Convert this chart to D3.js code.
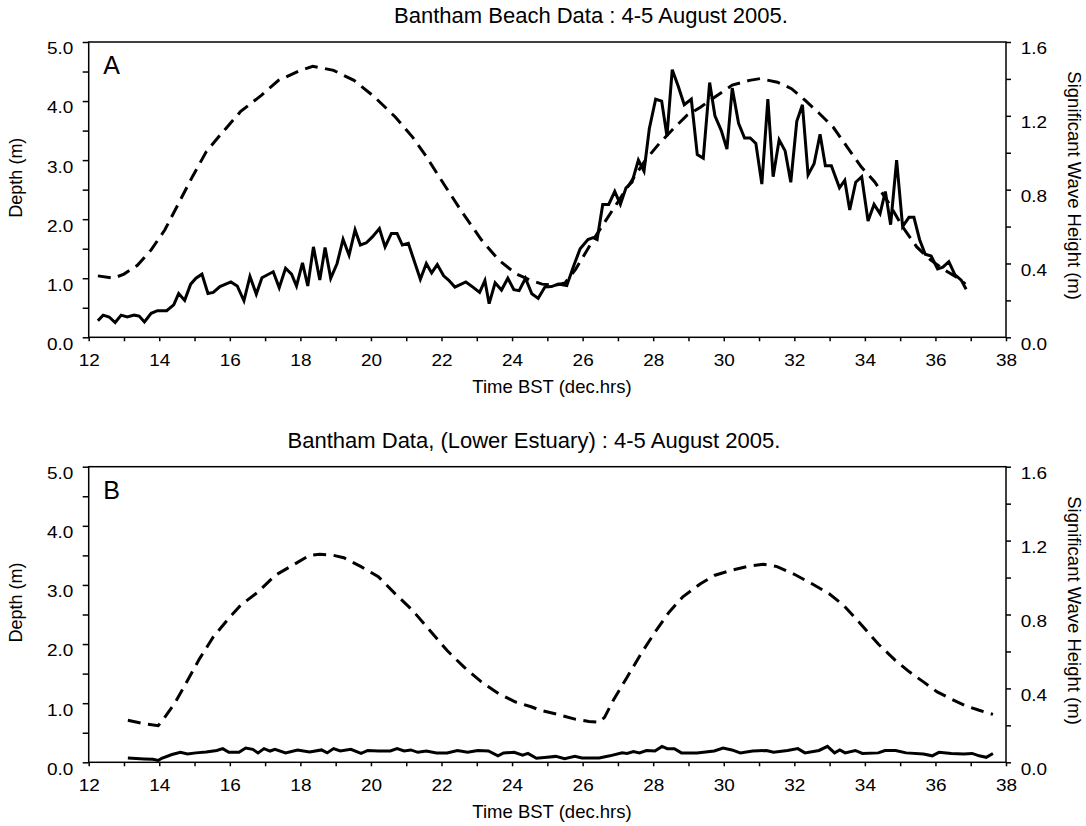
<!DOCTYPE html>
<html>
<head>
<meta charset="utf-8">
<script src="https://cdn.jsdelivr.net/npm/d3@7"></script>
<style>
  body { margin: 0; background: #fff; }
  svg { display: block; }
  text { font-family: "Liberation Sans", Arial, Helvetica, sans-serif; fill: #000; }
</style>
</head>
<body>
<svg id="chart" width="1086" height="826"></svg>
<script>
// ---- Data: Bantham Beach, 4-5 August 2005 (time in decimal hours BST) ----
const beachDepthTime = [12.26, 12.7, 13.0, 13.38, 13.77, 14.16, 14.55, 14.94, 15.33, 15.72, 16.3, 16.9, 17.38, 17.96, 18.35, 18.94, 19.52, 20.1, 20.69, 21.18, 21.57, 22.06, 22.55, 23.13, 23.62, 24.1, 24.5, 24.85, 25.2, 25.5, 25.8, 26.3, 26.79, 27.28, 27.78, 28.17, 28.57, 28.96, 29.35, 29.75, 30.24, 30.73, 31.03, 31.52, 31.92, 32.31, 32.71, 33.1, 33.5, 33.89, 34.28, 34.68, 35.07, 35.47, 35.86, 36.26, 36.65, 36.85];
const beachDepth = [1.04, 1.0, 1.07, 1.22, 1.48, 1.82, 2.27, 2.72, 3.14, 3.42, 3.82, 4.10, 4.35, 4.51, 4.59, 4.52, 4.35, 4.07, 3.73, 3.39, 3.06, 2.60, 2.15, 1.65, 1.31, 1.08, 0.97, 0.90, 0.88, 0.92, 1.15, 1.65, 2.10, 2.55, 3.0, 3.28, 3.53, 3.76, 3.90, 4.07, 4.27, 4.35, 4.38, 4.32, 4.21, 4.01, 3.79, 3.56, 3.22, 2.89, 2.63, 2.27, 1.87, 1.53, 1.31, 1.14, 1.0, 0.90];

const beachWaveTime = [12.26, 12.41, 12.58, 12.75, 12.92, 13.09, 13.29, 13.43, 13.58, 13.77, 13.95, 14.21, 14.41, 14.55, 14.72, 14.89, 15.04, 15.21, 15.38, 15.53, 15.72, 16.03, 16.21, 16.4, 16.57, 16.75, 16.91, 17.23, 17.4, 17.58, 17.75, 17.89, 18.06, 18.21, 18.37, 18.55, 18.7, 18.86, 19.04, 19.21, 19.38, 19.55, 19.7, 19.87, 20.04, 20.24, 20.4, 20.58, 20.74, 20.89, 21.06, 21.4, 21.57, 21.72, 21.88, 22.06, 22.2, 22.38, 22.69, 22.89, 23.08, 23.23, 23.35, 23.52, 23.7, 23.88, 24.05, 24.2, 24.38, 24.56, 24.74, 24.93, 25.12, 25.31, 25.55, 25.74, 25.93, 26.15, 26.3, 26.41, 26.57, 26.74, 26.91, 27.07, 27.23, 27.4, 27.58, 27.74, 27.89, 28.07, 28.24, 28.39, 28.54, 28.71, 28.88, 29.08, 29.25, 29.42, 29.6, 29.75, 29.93, 30.09, 30.24, 30.42, 30.59, 30.75, 30.91, 31.08, 31.25, 31.4, 31.57, 31.74, 31.9, 32.07, 32.23, 32.39, 32.56, 32.73, 32.88, 33.05, 33.28, 33.43, 33.57, 33.74, 33.91, 34.09, 34.26, 34.43, 34.58, 34.73, 34.9, 35.07, 35.25, 35.39, 35.55, 35.71, 35.88, 36.06, 36.21, 36.38, 36.55, 36.73, 36.87];
const beachWaveHs = [0.09, 0.12, 0.11, 0.08, 0.12, 0.11, 0.12, 0.115, 0.083, 0.13, 0.144, 0.144, 0.176, 0.237, 0.2, 0.288, 0.32, 0.342, 0.237, 0.243, 0.275, 0.3, 0.278, 0.198, 0.33, 0.234, 0.323, 0.355, 0.269, 0.374, 0.342, 0.278, 0.403, 0.278, 0.49, 0.31, 0.486, 0.32, 0.4, 0.531, 0.445, 0.582, 0.5, 0.512, 0.544, 0.589, 0.49, 0.563, 0.563, 0.5, 0.509, 0.314, 0.4, 0.349, 0.394, 0.333, 0.31, 0.272, 0.3, 0.272, 0.243, 0.307, 0.182, 0.295, 0.256, 0.32, 0.258, 0.253, 0.32, 0.236, 0.211, 0.272, 0.275, 0.288, 0.28, 0.384, 0.48, 0.53, 0.54, 0.53, 0.72, 0.72, 0.79, 0.72, 0.81, 0.84, 0.96, 0.9, 1.13, 1.29, 1.28, 1.09, 1.45, 1.36, 1.26, 1.29, 0.99, 0.97, 1.38, 1.2, 1.12, 1.02, 1.35, 1.16, 1.08, 1.08, 1.05, 0.83, 1.29, 0.87, 1.07, 1.01, 0.84, 1.17, 1.26, 0.88, 0.94, 1.1, 0.93, 0.93, 0.81, 0.85, 0.69, 0.84, 0.87, 0.63, 0.72, 0.67, 0.79, 0.61, 0.96, 0.6, 0.65, 0.65, 0.53, 0.45, 0.44, 0.37, 0.38, 0.41, 0.34, 0.31, 0.26];

// ---- Data: Bantham, Lower Estuary ----
const estuaryDepthTime = [13.11, 13.58, 13.97, 14.12, 14.46, 14.75, 15.14, 15.53, 15.92, 16.31, 16.8, 17.28, 17.77, 18.26, 18.55, 18.94, 19.23, 19.72, 20.21, 20.69, 21.18, 21.67, 22.16, 22.64, 23.13, 23.62, 24.1, 24.54, 24.8, 25.29, 25.78, 26.18, 26.47, 26.62, 26.87, 27.26, 27.66, 28.05, 28.45, 28.84, 29.34, 29.73, 30.23, 30.72, 31.12, 31.51, 32.0, 32.5, 32.99, 33.39, 33.88, 34.38, 34.87, 35.26, 35.66, 36.05, 36.45, 36.84, 37.24, 37.63];
const estuaryDepth = [0.71, 0.65, 0.62, 0.73, 1.02, 1.33, 1.75, 2.12, 2.40, 2.66, 2.88, 3.16, 3.33, 3.50, 3.52, 3.50, 3.46, 3.31, 3.14, 2.85, 2.57, 2.23, 1.89, 1.61, 1.36, 1.16, 1.02, 0.94, 0.88, 0.81, 0.73, 0.69, 0.68, 0.76, 1.05, 1.44, 1.84, 2.20, 2.54, 2.80, 3.02, 3.16, 3.25, 3.32, 3.35, 3.31, 3.18, 3.02, 2.85, 2.66, 2.34, 2.0, 1.72, 1.53, 1.36, 1.19, 1.07, 0.96, 0.88, 0.81];

const estuaryWaveTime = [13.11, 13.58, 13.82, 13.97, 14.07, 14.36, 14.6, 14.8, 15.04, 15.33, 15.63, 15.8, 15.97, 16.26, 16.45, 16.65, 16.8, 16.97, 17.14, 17.28, 17.58, 17.92, 18.26, 18.6, 18.76, 18.94, 19.13, 19.43, 19.72, 19.91, 20.21, 20.55, 20.74, 20.94, 21.13, 21.33, 21.57, 21.86, 22.16, 22.45, 22.74, 23.03, 23.33, 23.6, 23.76, 24.06, 24.3, 24.45, 24.69, 24.99, 25.24, 25.49, 25.78, 25.98, 26.47, 26.77, 27.12, 27.26, 27.44, 27.61, 27.81, 28.05, 28.25, 28.4, 28.6, 28.8, 29.24, 29.73, 29.98, 30.23, 30.47, 30.82, 31.21, 31.41, 31.81, 32.1, 32.3, 32.7, 32.94, 33.14, 33.29, 33.44, 33.73, 33.93, 34.38, 34.57, 34.87, 35.17, 35.66, 35.91, 36.1, 36.45, 36.8, 37.04, 37.24, 37.44, 37.63];
const estuaryWaveHs = [0.023, 0.018, 0.016, 0.01, 0.022, 0.042, 0.054, 0.045, 0.051, 0.056, 0.064, 0.074, 0.054, 0.054, 0.077, 0.07, 0.051, 0.074, 0.061, 0.07, 0.051, 0.067, 0.056, 0.067, 0.051, 0.074, 0.061, 0.07, 0.048, 0.064, 0.061, 0.061, 0.074, 0.061, 0.067, 0.054, 0.061, 0.051, 0.051, 0.064, 0.054, 0.064, 0.061, 0.035, 0.051, 0.054, 0.038, 0.048, 0.022, 0.027, 0.032, 0.019, 0.032, 0.023, 0.023, 0.035, 0.051, 0.048, 0.058, 0.051, 0.064, 0.061, 0.086, 0.074, 0.074, 0.051, 0.051, 0.061, 0.077, 0.067, 0.051, 0.061, 0.064, 0.054, 0.064, 0.074, 0.051, 0.064, 0.086, 0.051, 0.067, 0.051, 0.064, 0.048, 0.051, 0.064, 0.064, 0.051, 0.045, 0.035, 0.054, 0.048, 0.045, 0.048, 0.035, 0.027, 0.048];

// ---- Axis settings ----
const timeDomain = [12, 38];
const depthDomain = [0, 5];
const waveDomain = [0, 1.6];
const depthTicks = d3.range(0, 11).map(i => i * 0.5);
const waveTicks = d3.range(0, 9).map(i => i * 0.2);
const timeTicks = d3.range(12, 39);

const panels = [
  { letter: "A", title: "Bantham Beach Data : 4-5 August 2005.", titleX: 591,
    top: 42, bottom: 337.3,
    depthT: beachDepthTime, depth: beachDepth, waveT: beachWaveTime, wave: beachWaveHs },
  { letter: "B", title: "Bantham Data, (Lower Estuary) : 4-5 August 2005.", titleX: 534,
    top: 466.7, bottom: 762.3,
    depthT: estuaryDepthTime, depth: estuaryDepth, waveT: estuaryWaveTime, wave: estuaryWaveHs }
];

const left = 88.7, right = 1006;
const labelStretch = 1.15;   // tick numerals are set slightly wide
const svg = d3.select("#chart");
const x = d3.scaleLinear().domain(timeDomain).range([left, right]);

// widen tick labels horizontally about their anchor point
function widen(sel) {
  sel.each(function () {
    const t = d3.select(this);
    const tx = +(t.attr("x") || 0);
    t.attr("x", 0).attr("transform", `translate(${tx},0) scale(${labelStretch},1)`);
  });
}

panels.forEach(p => {
  const g = svg.append("g");
  const yL = d3.scaleLinear().domain(depthDomain).range([p.bottom, p.top]);
  const yR = d3.scaleLinear().domain(waveDomain).range([p.bottom, p.top]);

  // title
  g.append("text")
    .attr("x", p.titleX).attr("y", p.top - 19)
    .attr("text-anchor", "middle")
    .style("font-size", "22px")
    .text(p.title);

  // left axis: depth
  const axL = g.append("g").attr("transform", `translate(${left},0)`)
    .call(d3.axisLeft(yL).tickValues(depthTicks).tickSize(6).tickPadding(9.4)
      .tickFormat((d, i) => i % 2 === 0 ? d.toFixed(1) : ""));
  // right axis: significant wave height
  const axR = g.append("g").attr("transform", `translate(${right},0)`)
    .call(d3.axisRight(yR).tickValues(waveTicks).tickSize(5).tickPadding(9.7)
      .tickFormat((d, i) => i % 2 === 0 ? d.toFixed(1) : ""));
  // bottom axis: time
  const axB = g.append("g").attr("transform", `translate(0,${p.bottom})`)
    .call(d3.axisBottom(x).tickValues(timeTicks).tickSize(4).tickPadding(13.3)
      .tickFormat(d => d % 2 === 0 ? d : ""));

  [axL, axR, axB].forEach(ax => {
    ax.select(".domain").remove();
    ax.selectAll("line").attr("stroke", "#000").attr("stroke-width", 1.5);
    ax.selectAll("text").style("font-size", "16.5px").attr("fill", "#000")
      .style("font-family", '"Liberation Sans", Arial, sans-serif');
    widen(ax.selectAll("text"));
  });
  axL.selectAll("text").attr("dy", "0.72em");
  axR.selectAll("text").attr("dy", "0.72em");

  // frame
  g.append("rect")
    .attr("x", left).attr("y", p.top)
    .attr("width", right - left).attr("height", p.bottom - p.top)
    .attr("fill", "none").attr("stroke", "#000").attr("stroke-width", 1.5);

  // axis titles
  g.append("text")
    .attr("transform", `translate(22,${(p.top + p.bottom) / 2 - 12}) rotate(-90)`)
    .attr("text-anchor", "middle").style("font-size", "18px")
    .text("Depth (m)");
  g.append("text")
    .attr("transform", `translate(1068,${(p.top + p.bottom) / 2 - 4}) rotate(90)`)
    .attr("text-anchor", "middle").style("font-size", "18.5px")
    .text("Significant Wave Height (m)");
  g.append("text")
    .attr("x", 552).attr("y", p.bottom + 56)
    .attr("text-anchor", "middle").style("font-size", "18.5px")
    .text("Time BST (dec.hrs)");

  // panel letter
  g.append("text")
    .attr("x", 103.3).attr("y", p.top + 32.3)
    .style("font-size", "25px")
    .text(p.letter);

  // depth (dashed, left axis)
  const depthLine = d3.line().x(d => x(d[0])).y(d => yL(d[1]));
  g.append("path")
    .datum(d3.zip(p.depthT, p.depth))
    .attr("d", depthLine)
    .attr("fill", "none").attr("stroke", "#000").attr("stroke-width", 3)
    .attr("stroke-dasharray", "13,7.5");

  // significant wave height (solid, right axis)
  const waveLine = d3.line().x(d => x(d[0])).y(d => yR(d[1]));
  g.append("path")
    .datum(d3.zip(p.waveT, p.wave))
    .attr("d", waveLine)
    .attr("fill", "none").attr("stroke", "#000").attr("stroke-width", 3)
    .attr("stroke-linejoin", "miter");
});
</script>
</body>
</html>
